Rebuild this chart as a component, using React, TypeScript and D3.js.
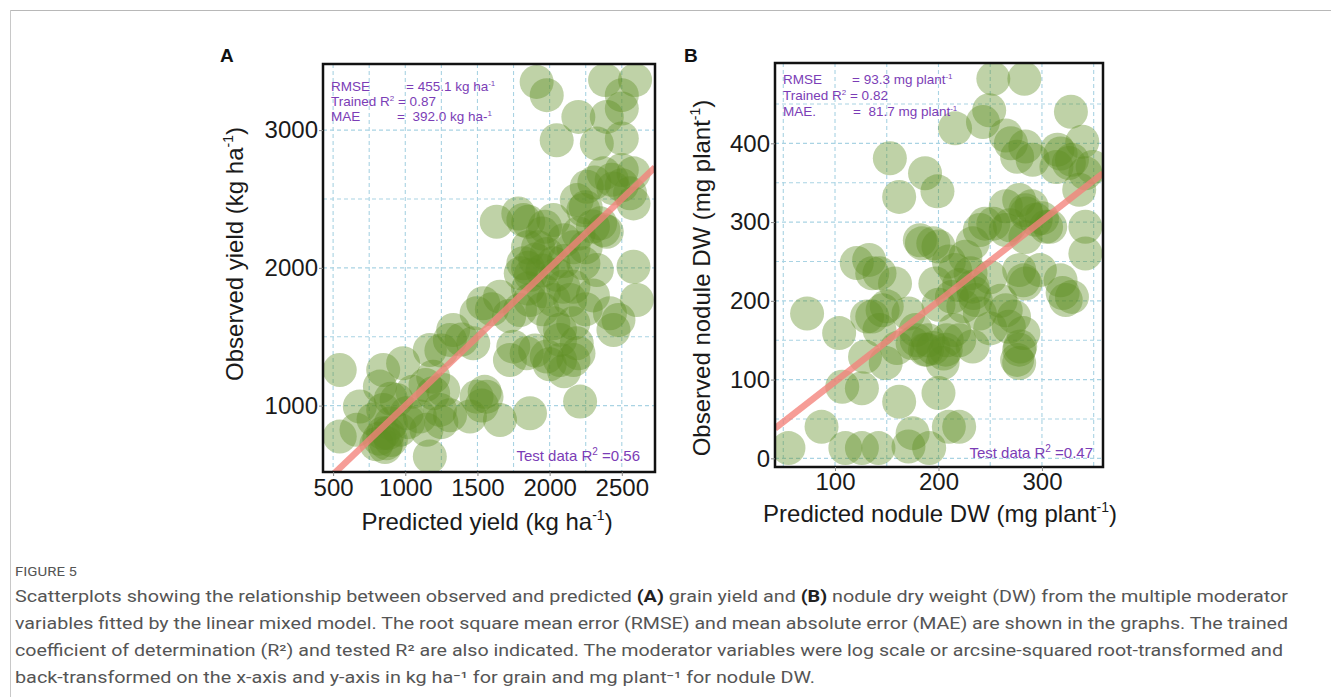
import React, { useEffect, useRef } from "react";
import * as d3 from "d3";

// ---- Panel A: grain yield (kg/ha) ----
const predA = [
  1910, 1980, 2384, 2592, 2500, 2500, 2199, 2396, 2049, 2327, 2500,
  2257, 2373, 2581, 2500, 2188, 2557, 2442, 2310, 2430, 2250, 2350, 2396, 2300, 2500,
  1633, 1818, 1783, 1852, 1968, 2026, 2234, 2373, 2581,
  1818, 1850, 1900, 1950, 1870, 1800, 1980, 2026, 1920, 1850, 2100, 2050, 2234, 2327, 2581, 2165, 2250, 2100, 2200, 1950,
  2095, 2165, 2026, 2142, 1864, 1540, 1656, 1494, 1795, 2026, 2072, 2164, 1332, 2604, 2418, 2477, 1720, 1600, 1950, 2250, 2300, 1850, 1960,
  1748, 1841, 1980, 2072, 2165, 2072, 2188, 2442, 1471, 1725, 1390, 1250, 1170, 1309, 1900, 2100, 2000, 2200,
  546, 847, 985, 824, 1193, 1263, 1193, 1240, 1101, 1494, 1563, 1530, 1448, 1656, 1864, 2211, 1140, 1050, 900, 1550,
  685, 546, 662, 847, 940, 847, 870, 962, 1009, 1147, 1170, 780, 900, 820, 880, 1020, 1250, 1310, 800, 860, 900,
];
const obsA = [
  3350, 3254, 3363, 3363, 3254, 3157, 3096, 3096, 2927, 2903, 2940,
  2589, 2686, 2686, 2710, 2492, 2541, 2577, 2620, 2640, 2440, 2323, 2262, 2300, 2600,
  2335, 2347, 2395, 2335, 2299, 2347, 2420, 2275, 2468,
  2033, 2000, 2060, 1980, 1950, 1960, 2100, 2033, 2150, 2150, 2050, 1950, 2033, 1984, 2008, 2150, 2150, 2200, 2250, 2250,
  1863, 1863, 1767, 1767, 1767, 1743, 1791, 1670, 1694, 1598, 1550, 1598, 1549, 1767, 1670, 1622, 1650, 1700, 1700, 1700, 1800, 1850, 1830,
  1428, 1380, 1356, 1331, 1331, 1477, 1453, 1549, 1453, 1331, 1480, 1400, 1404, 1477, 1400, 1250, 1300, 1380,
  1259, 1259, 1308, 1138, 1210, 1114, 1090, 969, 921, 1065, 1065, 1000, 921, 896, 945, 1029, 1150, 1100, 1050, 1100,
  993, 775, 824, 969, 1041, 800, 727, 824, 945, 824, 630, 900, 870, 760, 800, 880, 880, 930, 720, 700, 750,
];
const fitXA = [430, 2730];
const fitYA = [430, 2730];
const xTicksA = [500, 1000, 1500, 2000, 2500];
const yTicksA = [1000, 2000, 3000];
const xGridA = [500, 750, 1000, 1250, 1500, 1750, 2000, 2250, 2500];
const yGridA = [1000, 1500, 2000, 2500, 3000];

// ---- Panel B: nodule dry weight (mg/plant) ----
const predB = [
  253, 283, 328, 249, 243, 216, 265, 284, 291, 315, 339, 329, 336, 349, 326, 314, 342, 318, 278, 270, 276,
  153, 187, 199, 162,
  265, 284, 294, 342, 342, 245, 265, 304, 284, 269, 285, 308, 253, 240, 300, 290,
  184, 200, 233, 226, 216, 133, 136, 158, 197, 233, 236, 213, 278, 284, 320, 329, 231, 234, 240, 224, 298, 318, 323, 282, 182, 195, 121, 143, 150, 131, 143, 210, 250, 220, 200, 260,
  73, 146, 136, 171, 104, 178, 265, 268, 215, 179, 189, 205, 208, 279, 276, 282, 273, 129, 149, 175, 187, 207, 204, 233, 278, 278, 190, 195, 220, 160, 250,
  107, 126, 162, 200, 87, 55, 110, 126, 142, 175, 171, 191, 210, 220,
];
const obsB = [
  482, 482, 440, 442, 427, 419, 410, 396, 379, 392, 402, 379, 341, 370, 375, 370, 362, 387, 328, 400, 383,
  381, 362, 339, 332,
  320, 315, 303, 294, 260, 298, 290, 294, 281, 296, 311, 294, 298, 290, 305, 320,
  273, 269, 273, 256, 239, 252, 235, 222, 222, 218, 201, 205, 239, 222, 210, 205, 235, 210, 184, 193, 239, 226, 201, 226, 277, 273, 248, 235, 193, 180, 163, 250, 230, 220, 195, 200,
  184, 188, 180, 184, 159, 163, 188, 167, 163, 150, 138, 133, 150, 142, 125, 159, 180, 129, 121, 146, 138, 138, 121, 142, 138, 121, 150, 140, 150, 140, 165,
  91, 89, 72, 83, 40, 13, 13, 13, 13, 32, 15, 13, 40, 40,
];
const fitXB = [42, 359];
const fitYB = [38, 362];
const xTicksB = [100, 200, 300];
const yTicksB = [0, 100, 200, 300, 400];
const xGridB = [50, 100, 150, 200, 250, 300, 350];
const yGridB = [0, 50, 100, 150, 200, 250, 300, 350, 400, 450];

const captionLines = [
  "variables fitted by the linear mixed model. The root square mean error (RMSE) and mean absolute error (MAE) are shown in the graphs. The trained",
  "coefficient of determination (R²) and tested R² are also indicated. The moderator variables were log scale or arcsine-squared root-transformed and",
  "back-transformed on the x-axis and y-axis in kg ha⁻¹ for grain and mg plant⁻¹ for nodule DW.",
];

const FONT = "Liberation Sans, Arial, sans-serif";
const PURPLE = "#7b3db6";
const DOT = "#5f8f22";
const W = 1331, H = 697;

type Txt = [string, boolean?][];

const PANELS = [
  {
    id: "A", letterX: 220,
    box: { left: 323, right: 655, top: 64, bottom: 472 },
    xDomain: [430, 2730], yDomain: [518, 3480],
    pred: predA, obs: obsA, fitX: fitXA, fitY: fitYA,
    xTicks: xTicksA, yTicks: yTicksA, xGrid: xGridA, yGrid: yGridA,
    xTitle: ["Predicted yield (kg ha", "-1", ")"],
    yTitle: ["Observed yield (kg ha", "-1", ")"],
    xTitleX: 487, xTitleY: 530, yTitleX: 243, yTitleY: 254, xPad: 3,
    stats: {
      x0: 331, x1: 406, x2: 397, ys: [91, 106, 121],
      l1: ["RMSE", "= 455.1 kg ha", "-1"],
      l2: "0.87",
      l3: ["MAE", "=  392.0 kg ha-", "1"],
    },
    test: { x: 640, y: 461, r2: "=0.56" },
  },
  {
    id: "B", letterX: 684,
    box: { left: 775, right: 1103, top: 63, bottom: 467 },
    xDomain: [42, 359], yDomain: [-11, 502],
    pred: predB, obs: obsB, fitX: fitXB, fitY: fitYB,
    xTicks: xTicksB, yTicks: yTicksB, xGrid: xGridB, yGrid: yGridB,
    xTitle: ["Predicted nodule DW (mg plant", "-1", ")"],
    yTitle: ["Observed nodule DW (mg plant", "-1", ")"],
    xTitleX: 940, xTitleY: 522, yTitleX: 710, yTitleY: 278, xPad: 2,
    stats: {
      x0: 783, x1: 852, x2: 853, ys: [84, 100, 116],
      l1: ["RMSE", "= 93.3 mg plant", "-1"],
      l2: "0.82",
      l3: ["MAE.", "=  81.7 mg plant", "-1"],
    },
    test: { x: 1093, y: 458, r2: "=0.47" },
  },
];

const App = () => {
  const svgRef = useRef<SVGSVGElement>(null);

  useEffect(() => {
    if (!svgRef.current) return;
    const svg = d3.select(svgRef.current);
    svg.selectAll("*").remove();

    // page frame
    svg.append("line").attr("x1", 10).attr("x2", W).attr("y1", 10.5).attr("y2", 10.5)
      .attr("stroke", "#b8b8b8").attr("stroke-width", 1);
    svg.append("line").attr("x1", 10.5).attr("x2", 10.5).attr("y1", 10).attr("y2", H)
      .attr("stroke", "#c8c8c8").attr("stroke-width", 1);

    PANELS.forEach((p) => {
      const { box } = p;
      const x = d3.scaleLinear().domain(p.xDomain).range([box.left, box.right]);
      const y = d3.scaleLinear().domain(p.yDomain).range([box.bottom, box.top]);
      const g = svg.append("g");

      const clipId = `clip-${p.id}`;
      g.append("clipPath").attr("id", clipId).append("rect")
        .attr("x", box.left).attr("y", box.top)
        .attr("width", box.right - box.left).attr("height", box.bottom - box.top);

      // grid
      const grid = g.append("g").attr("stroke", "#a9d3e3").attr("stroke-width", 1.1)
        .attr("stroke-dasharray", "4,3");
      p.xGrid.forEach((v) => {
        grid.append("line").attr("x1", x(v)).attr("x2", x(v))
          .attr("y1", box.top).attr("y2", box.bottom);
      });
      p.yGrid.forEach((v) => {
        grid.append("line").attr("y1", y(v)).attr("y2", y(v))
          .attr("x1", box.left).attr("x2", box.right);
      });

      // points
      const pts = g.append("g").attr("clip-path", `url(#${clipId})`);
      p.pred.forEach((v, i) => {
        pts.append("circle").attr("cx", x(v)).attr("cy", y(p.obs[i])).attr("r", 17)
          .attr("fill", DOT).attr("fill-opacity", 0.4);
      });

      // 1:1 fit line
      pts.append("line")
        .attr("x1", x(p.fitX[0])).attr("y1", y(p.fitY[0]))
        .attr("x2", x(p.fitX[1])).attr("y2", y(p.fitY[1]))
        .attr("stroke", "#f4817a").attr("stroke-opacity", 0.78).attr("stroke-width", 6.5);

      // border
      g.append("rect").attr("x", box.left).attr("y", box.top)
        .attr("width", box.right - box.left).attr("height", box.bottom - box.top)
        .attr("fill", "none").attr("stroke", "#111").attr("stroke-width", 2.5);

      // axes
      const styleAxis = (ax: any) => {
        ax.select(".domain").remove();
        ax.selectAll(".tick line").attr("stroke", "#888");
        ax.selectAll(".tick text").attr("fill", "#1a1a1a")
          .attr("font-size", "24px").attr("font-family", FONT);
      };
      g.append("g").attr("transform", `translate(0,${box.bottom})`)
        .call(d3.axisBottom(x).tickValues(p.xTicks).tickSize(4).tickPadding(p.xPad)
          .tickFormat((d: any) => String(d)))
        .call(styleAxis);
      g.append("g").attr("transform", `translate(${box.left},0)`)
        .call(d3.axisLeft(y).tickValues(p.yTicks).tickSize(4).tickPadding(1)
          .tickFormat((d: any) => String(d)))
        .call(styleAxis);

      // axis titles
      const title = (t: string[], tx: number, ty: number, rot: boolean) => {
        const el = g.append("text").attr("font-family", FONT).attr("font-size", "24px")
          .attr("fill", "#1a1a1a").attr("text-anchor", "middle")
          .attr("transform", rot ? `translate(${tx},${ty}) rotate(-90)` : `translate(${tx},${ty})`);
        el.append("tspan").text(t[0]);
        el.append("tspan").attr("font-size", "14px").attr("dy", -10).text(t[1]);
        el.append("tspan").attr("dy", 10).text(t[2]);
      };
      title(p.xTitle, p.xTitleX, p.xTitleY, false);
      title(p.yTitle, p.yTitleX, p.yTitleY, true);

      // panel letter
      g.append("text").attr("x", p.letterX).attr("y", 62).attr("font-family", FONT)
        .attr("font-weight", "bold").attr("font-size", "19px").attr("fill", "#111").text(p.id);

      // stats
      const s = p.stats;
      const st = g.append("g").attr("font-family", FONT).attr("font-size", "13.5px").attr("fill", PURPLE);
      st.append("text").attr("x", s.x0).attr("y", s.ys[0]).text(s.l1[0]);
      const t1 = st.append("text").attr("x", s.x1).attr("y", s.ys[0]);
      t1.append("tspan").text(s.l1[1]);
      t1.append("tspan").attr("font-size", "8px").attr("dy", -5).text(s.l1[2]);
      const t2 = st.append("text").attr("x", s.x0).attr("y", s.ys[1]);
      t2.append("tspan").text("Trained R");
      t2.append("tspan").attr("font-size", "8px").attr("dy", -5).text("2");
      t2.append("tspan").attr("dy", 5).text(` = ${s.l2}`);
      st.append("text").attr("x", s.x0).attr("y", s.ys[2]).text(s.l3[0]);
      const t3 = st.append("text").attr("x", s.x2).attr("y", s.ys[2]).attr("xml:space", "preserve");
      t3.append("tspan").text(s.l3[1]);
      t3.append("tspan").attr("font-size", "8px").attr("dy", -5).text(s.l3[2]);

      const tt = g.append("text").attr("x", p.test.x).attr("y", p.test.y)
        .attr("text-anchor", "end").attr("font-family", FONT).attr("font-size", "15px")
        .attr("fill", PURPLE);
      tt.append("tspan").text("Test data R");
      tt.append("tspan").attr("font-size", "10px").attr("dy", -6).text("2");
      tt.append("tspan").attr("dy", 6).text(` ${p.test.r2}`);
    });

    // caption
    const CAP = "Roboto, 'Open Sans', sans-serif";
    svg.append("text").attr("x", 15).attr("y", 576).attr("font-family", CAP)
      .attr("font-size", "12px").attr("fill", "#555").attr("textLength", 62)
      .attr("lengthAdjust", "spacingAndGlyphs").text("FIGURE 5");

    const l1 = svg.append("text").attr("x", 15).attr("y", 602).attr("font-family", CAP)
      .attr("font-size", "16px").attr("fill", "#555").attr("textLength", 1273)
      .attr("lengthAdjust", "spacingAndGlyphs");
    const parts: Txt = [
      ["Scatterplots showing the relationship between observed and predicted "],
      ["(A)", true], [" grain yield and "], ["(B)", true],
      [" nodule dry weight (DW) from the multiple moderator"],
    ];
    parts.forEach(([t, b]) => {
      l1.append("tspan").attr("font-weight", b ? "bold" : "normal")
        .attr("fill", b ? "#222" : "#555").text(t);
    });
    const lens = [1273, 1268, 800];
    captionLines.forEach((t, i) => {
      svg.append("text").attr("x", 15).attr("y", 629 + i * 27).attr("font-family", CAP)
        .attr("font-size", "16px").attr("fill", "#555").attr("textLength", lens[i])
        .attr("lengthAdjust", "spacingAndGlyphs").text(t);
    });
  }, []);

  return (
    <svg ref={svgRef} width={W} height={H}
      style={{ position: "absolute", left: 0, top: 0, background: "#fff" }} />
  );
};

export default App;
